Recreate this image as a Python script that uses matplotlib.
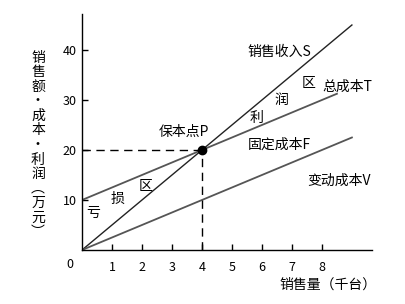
import matplotlib.pyplot as plt
import numpy as np

plt.rcParams['font.family'] = ['Noto Sans CJK SC', 'DejaVu Sans']

# data
x_s = [0, 9.0]
sales = [0, 45]          # 销售收入S
x_t = [0, 8.5]
total_cost = [10, 31.25]  # 总成本T
x_v = [0, 9.0]
var_cost = [0, 22.5]     # 变动成本V
bep_x, bep_y = 4, 20
xticks = [1, 2, 3, 4, 5, 6, 7, 8]
yticks = [10, 20, 30, 40]

fig = plt.figure(figsize=(4.06, 3.04), dpi=100)
ax = fig.add_axes([82/406, 54/304, 290/406, 236/304])
ax.set_xlim(0, 9.67)
ax.set_ylim(0, 47.2)

ax.plot(x_s, sales, color='#222222', lw=1.0)
ax.plot(x_t, total_cost, color='#555555', lw=1.3)
ax.plot(x_v, var_cost, color='#555555', lw=1.3)
ax.plot([0, bep_x], [bep_y, bep_y], color='black', lw=1.0, ls=(0, (6, 4)))
ax.plot([bep_x, bep_x], [0, bep_y], color='black', lw=1.0, ls=(0, (6, 4)))
ax.plot([bep_x], [bep_y], 'o', color='black', ms=6)

for s in ['top', 'right']:
    ax.spines[s].set_visible(False)
ax.spines['left'].set_linewidth(1.0)
ax.spines['bottom'].set_linewidth(1.0)
ax.set_xticks(xticks)
ax.set_yticks(yticks)
ax.tick_params(direction='in', length=4, width=1, labelsize=9, pad=8)
ax.tick_params(axis='y', pad=4)

fs = 10
fig.text(70/406, 1 - 265/304, '0', fontsize=9, ha='center', va='center')
fig.text(328/406, 1 - 285/304, '销售量（千台）', fontsize=fs, ha='center', va='center')
fig.text(38/406, 1 - 145/304, '\n'.join('销售额·成本·利润') + '\n︵\n万\n元\n︶',
         fontsize=fs, ha='center', va='center', linespacing=1.05)

def lab(px, py, s, ha='left'):
    fig.text(px/406, 1 - py/304, s, fontsize=fs, ha=ha, va='center')

lab(247, 52, '销售收入S')
lab(302, 83, '区')
lab(322, 87, '总成本T')
lab(275, 100, '润')
lab(250, 118, '利')
lab(159, 132, '保本点P')
lab(248, 145, '固定成本F')
lab(307, 181, '变动成本V')
lab(86, 213, '亏')
lab(111, 199, '损')
lab(139, 186, '区')

fig.savefig('out.png', dpi=100)
